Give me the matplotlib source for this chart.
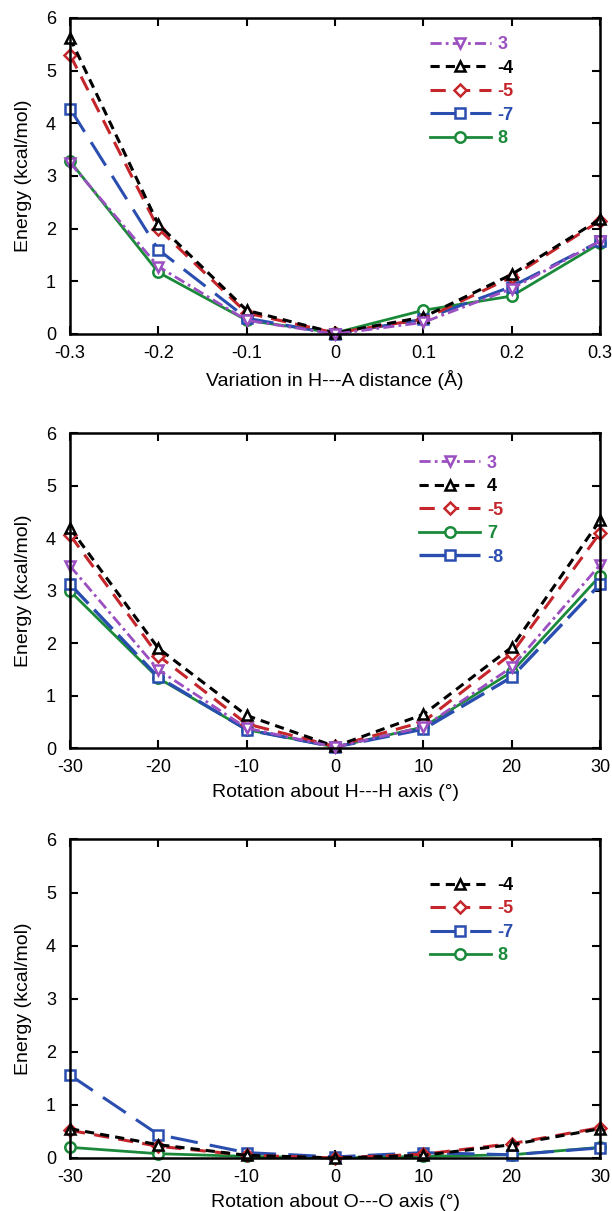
import matplotlib
matplotlib.use("Agg")
import matplotlib.pyplot as plt

plt.rcParams['font.family'] = ['Liberation Sans', 'DejaVu Sans']
plt.rcParams['axes.unicode_minus'] = False

# ---- data ----
x_dist = [-0.3, -0.2, -0.1, 0, 0.1, 0.2, 0.3]
x_rot = [-30, -20, -10, 0, 10, 20, 30]

# panel 1: variation in H---A distance
p1_3 = [3.25, 1.28, 0.26, 0.0, 0.22, 0.86, 1.76]
p1_4 = [5.62, 2.08, 0.45, 0.02, 0.32, 1.13, 2.18]
p1_5 = [5.30, 2.00, 0.40, 0.02, 0.28, 1.08, 2.15]
p1_7 = [4.28, 1.60, 0.30, 0.0, 0.28, 0.90, 1.76]
p1_8 = [3.28, 1.17, 0.26, 0.02, 0.45, 0.72, 1.72]
p1_labels = ['3', '-4', '-5', '-7', '8']

# panel 2: rotation about H---H axis
p2_3 = [3.47, 1.49, 0.38, 0.02, 0.40, 1.54, 3.49]
p2_4 = [4.19, 1.90, 0.62, 0.03, 0.64, 1.92, 4.34]
p2_5 = [4.06, 1.76, 0.46, 0.03, 0.50, 1.80, 4.10]
p2_7 = [2.99, 1.33, 0.35, 0.02, 0.40, 1.45, 3.28]
p2_8 = [3.12, 1.35, 0.35, 0.02, 0.36, 1.35, 3.12]
p2_labels = ['3', '4', '-5', '7', '-8']

# panel 3: rotation about O---O axis
p3_4 = [0.55, 0.25, 0.05, 0.0, 0.05, 0.25, 0.55]
p3_5 = [0.52, 0.22, 0.05, 0.0, 0.07, 0.27, 0.57]
p3_7 = [1.56, 0.44, 0.10, 0.02, 0.10, 0.06, 0.19]
p3_8 = [0.20, 0.08, 0.03, 0.0, 0.03, 0.06, 0.20]
p3_labels = ['-4', '-5', '-7', '8']

# ---- styles ----
PURPLE = '#9b4fc0'
BLACK = '#000000'
RED = '#c4262b'
BLUE = '#2a4db0'
GREEN = '#1a8a3a'

sty = {
    '3': dict(color=PURPLE, ls=(0, (4, 1.5, 1, 1.5)), marker='v', lw=2.0),
    '4': dict(color=BLACK, ls=(0, (3, 2)), marker='^', lw=2.2),
    '5': dict(color=RED, ls=(0, (5, 3)), marker='D', lw=2.2, ms=6),
    '7': dict(color=BLUE, ls=(0, (9, 4)), marker='s', lw=2.2),
    '8': dict(color=GREEN, ls='-', marker='o', lw=2.0),
    'b2': dict(color=BLUE, ls=(0, (8, 2.5)), marker='s', lw=2.4),
}


def plot_line(ax, x, y, key):
    s = dict(sty[key])
    ms = s.pop('ms', 7.5)
    ln, = ax.plot(x, y, color=s['color'], ls=s['ls'], lw=s['lw'], marker=s['marker'],
                  ms=ms, mfc='white', mec=s['color'], mew=1.8)
    return ln


fig = plt.figure(figsize=(6.12, 12.11), dpi=100)
axes = [
    fig.add_axes([0.1144, 0.7242, 0.866, 0.261]),
    fig.add_axes([0.1144, 0.3823, 0.866, 0.260]),
    fig.add_axes([0.1144, 0.0438, 0.866, 0.263]),
]

ax = axes[0]
l8 = plot_line(ax, x_dist, p1_8, '8')
l7 = plot_line(ax, x_dist, p1_7, '7')
l5 = plot_line(ax, x_dist, p1_5, '5')
l4 = plot_line(ax, x_dist, p1_4, '4')
l3 = plot_line(ax, x_dist, p1_3, '3')
h1 = [l3, l4, l5, l7, l8]
ax.set_xlim(-0.3, 0.3)
ax.set_xticks(x_dist)
ax.set_xticklabels(['-0.3', '-0.2', '-0.1', '0', '0.1', '0.2', '0.3'])
ax.set_xlabel('Variation in H---A distance (\u00c5)')

ax = axes[1]
g7 = plot_line(ax, x_rot, p2_7, '8')
b8 = plot_line(ax, x_rot, p2_8, 'b2')
r5 = plot_line(ax, x_rot, p2_5, '5')
k4 = plot_line(ax, x_rot, p2_4, '4')
m3 = plot_line(ax, x_rot, p2_3, '3')
h2 = [m3, k4, r5, g7, b8]
ax.set_xlim(-30, 30)
ax.set_xticks(x_rot)
ax.set_xlabel('Rotation about H---H axis (\u00b0)')

ax = axes[2]
q8 = plot_line(ax, x_rot, p3_8, '8')
q7 = plot_line(ax, x_rot, p3_7, '7')
q5 = plot_line(ax, x_rot, p3_5, '5')
q4 = plot_line(ax, x_rot, p3_4, '4')
h3 = [q4, q5, q7, q8]
ax.set_xlim(-30, 30)
ax.set_xticks(x_rot)
ax.set_xlabel('Rotation about O---O axis (\u00b0)')

leg_handles = [(h1, p1_labels), (h2, p2_labels), (h3, p3_labels)]
leg_pos = [(0.665, 0.965), (0.645, 0.955), (0.665, 0.905)]
for ax, (hs, labs), pos in zip(axes, leg_handles, leg_pos):
    ax.set_ylim(0, 6)
    ax.set_yticks(range(7))
    ax.set_ylabel('Energy (kcal/mol)', fontsize=14, labelpad=10)
    ax.xaxis.label.set_fontsize(14)
    ax.xaxis.labelpad = 6
    ax.tick_params(direction='in', length=6, width=1.5, top=True, right=True,
                   labelsize=13)
    ax.tick_params(axis='y', pad=10)
    ax.tick_params(axis='x', pad=8)
    for sp in ax.spines.values():
        sp.set_linewidth(1.8)
    for ln in ax.lines:
        ln.set_clip_on(False)
    leg = ax.legend(hs, labs, loc='upper left', bbox_to_anchor=pos, frameon=False,
                    handlelength=3.4, handletextpad=0.35, labelspacing=0.36,
                    borderaxespad=0, prop=dict(size=13, weight='bold'))
    for t, h in zip(leg.get_texts(), hs):
        t.set_color(h.get_color())

fig.savefig('out.png', dpi=100)
